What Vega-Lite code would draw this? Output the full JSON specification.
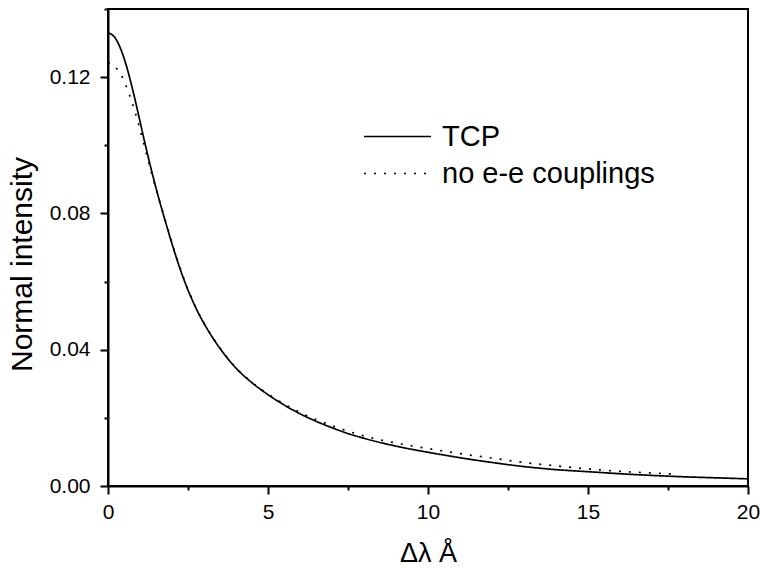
{
  "$schema": "https://vega.github.io/schema/vega-lite/v6.json",
  "width": 640,
  "height": 477,
  "autosize": "none",
  "padding": {"left": 108, "top": 9, "right": 12, "bottom": 82},
  "background": "white",
  "config": {
    "view": {"stroke": "black", "strokeWidth": 2},
    "font": "Liberation Sans",
    "axis": {
      "domainColor": "black", "domainWidth": 2, "tickColor": "black", "tickWidth": 2,
      "labelColor": "black", "titleColor": "black", "labelFont": "Liberation Sans",
      "titleFont": "Liberation Sans", "titleFontWeight": "normal", "grid": false
    }
  },
  "datasets": {
    "curves": [
      {"x": 0, "y": 0.1330, "s": "TCP"},
      {"x": 0.2, "y": 0.1318, "s": "TCP"},
      {"x": 0.4, "y": 0.1282, "s": "TCP"},
      {"x": 0.6, "y": 0.1225, "s": "TCP"},
      {"x": 0.8, "y": 0.1152, "s": "TCP"},
      {"x": 1.0, "y": 0.1070, "s": "TCP"},
      {"x": 1.2, "y": 0.0988, "s": "TCP"},
      {"x": 1.4, "y": 0.0911, "s": "TCP"},
      {"x": 1.6, "y": 0.0840, "s": "TCP"},
      {"x": 1.8, "y": 0.0774, "s": "TCP"},
      {"x": 2.0, "y": 0.0711, "s": "TCP"},
      {"x": 2.2, "y": 0.0652, "s": "TCP"},
      {"x": 2.4, "y": 0.0599, "s": "TCP"},
      {"x": 2.6, "y": 0.0553, "s": "TCP"},
      {"x": 2.8, "y": 0.0512, "s": "TCP"},
      {"x": 3.0, "y": 0.0477, "s": "TCP"},
      {"x": 3.3, "y": 0.0431, "s": "TCP"},
      {"x": 3.6, "y": 0.0391, "s": "TCP"},
      {"x": 4.0, "y": 0.0346, "s": "TCP"},
      {"x": 4.5, "y": 0.0303, "s": "TCP"},
      {"x": 5.0, "y": 0.0268, "s": "TCP"},
      {"x": 5.5, "y": 0.0238, "s": "TCP"},
      {"x": 6.0, "y": 0.0212, "s": "TCP"},
      {"x": 6.5, "y": 0.0190, "s": "TCP"},
      {"x": 7.0, "y": 0.0171, "s": "TCP"},
      {"x": 7.5, "y": 0.0154, "s": "TCP"},
      {"x": 8.0, "y": 0.0140, "s": "TCP"},
      {"x": 9.0, "y": 0.0117, "s": "TCP"},
      {"x": 10.0, "y": 0.0099, "s": "TCP"},
      {"x": 11.0, "y": 0.0083, "s": "TCP"},
      {"x": 12.0, "y": 0.0069, "s": "TCP"},
      {"x": 13.0, "y": 0.0057, "s": "TCP"},
      {"x": 14.0, "y": 0.0048, "s": "TCP"},
      {"x": 15.0, "y": 0.0042, "s": "TCP"},
      {"x": 16.0, "y": 0.0036, "s": "TCP"},
      {"x": 17.0, "y": 0.0031, "s": "TCP"},
      {"x": 18.0, "y": 0.0027, "s": "TCP"},
      {"x": 19.0, "y": 0.0024, "s": "TCP"},
      {"x": 20.0, "y": 0.0021, "s": "TCP"},
      {"x": 0, "y": 0.1243, "s": "no e-e couplings"},
      {"x": 0.2, "y": 0.1232, "s": "no e-e couplings"},
      {"x": 0.4, "y": 0.1208, "s": "no e-e couplings"},
      {"x": 0.6, "y": 0.1166, "s": "no e-e couplings"},
      {"x": 0.8, "y": 0.1112, "s": "no e-e couplings"},
      {"x": 1.0, "y": 0.1046, "s": "no e-e couplings"},
      {"x": 1.2, "y": 0.0975, "s": "no e-e couplings"},
      {"x": 1.4, "y": 0.0905, "s": "no e-e couplings"},
      {"x": 1.6, "y": 0.0840, "s": "no e-e couplings"},
      {"x": 1.8, "y": 0.0777, "s": "no e-e couplings"},
      {"x": 2.0, "y": 0.0714, "s": "no e-e couplings"},
      {"x": 2.2, "y": 0.0655, "s": "no e-e couplings"},
      {"x": 2.4, "y": 0.0601, "s": "no e-e couplings"},
      {"x": 2.6, "y": 0.0554, "s": "no e-e couplings"},
      {"x": 2.8, "y": 0.0513, "s": "no e-e couplings"},
      {"x": 3.0, "y": 0.0478, "s": "no e-e couplings"},
      {"x": 3.3, "y": 0.0432, "s": "no e-e couplings"},
      {"x": 3.6, "y": 0.0392, "s": "no e-e couplings"},
      {"x": 4.0, "y": 0.0347, "s": "no e-e couplings"},
      {"x": 4.5, "y": 0.0304, "s": "no e-e couplings"},
      {"x": 5.0, "y": 0.0270, "s": "no e-e couplings"},
      {"x": 5.5, "y": 0.0241, "s": "no e-e couplings"},
      {"x": 6.0, "y": 0.0216, "s": "no e-e couplings"},
      {"x": 6.5, "y": 0.0195, "s": "no e-e couplings"},
      {"x": 7.0, "y": 0.0177, "s": "no e-e couplings"},
      {"x": 7.5, "y": 0.0161, "s": "no e-e couplings"},
      {"x": 8.0, "y": 0.0147, "s": "no e-e couplings"},
      {"x": 9.0, "y": 0.0126, "s": "no e-e couplings"},
      {"x": 10.0, "y": 0.0110, "s": "no e-e couplings"},
      {"x": 11.0, "y": 0.0095, "s": "no e-e couplings"},
      {"x": 12.0, "y": 0.0082, "s": "no e-e couplings"},
      {"x": 13.0, "y": 0.0069, "s": "no e-e couplings"},
      {"x": 14.0, "y": 0.0059, "s": "no e-e couplings"},
      {"x": 15.0, "y": 0.0050, "s": "no e-e couplings"},
      {"x": 16.0, "y": 0.0043, "s": "no e-e couplings"},
      {"x": 17.0, "y": 0.0038, "s": "no e-e couplings"},
      {"x": 17.6, "y": 0.0035, "s": "no e-e couplings"}
    ]
  },
  "data": {"name": "curves"},
  "mark": {"type": "line", "color": "black", "strokeWidth": 1.7, "interpolate": "monotone", "clip": true},
  "encoding": {
    "x": {
      "field": "x", "type": "quantitative",
      "scale": {"domain": [0, 20], "nice": false, "zero": false},
      "axis": {
        "title": "Δλ Å", "titleFontSize": 27, "titlePadding": 18,
        "values": [0, 2.5, 5, 7.5, 10, 12.5, 15, 17.5, 20],
        "format": "d",
        "labelExpr": "datum.value % 5 === 0 ? datum.label : ''",
        "labelFontSize": 21, "labelPadding": 7, "labelFlush": false,
        "tickSize": {"condition": {"test": "datum.value % 5 !== 0", "value": 4}, "value": 8}
      }
    },
    "y": {
      "field": "y", "type": "quantitative",
      "scale": {"domain": [0, 0.14], "nice": false, "zero": false},
      "axis": {
        "title": "Normal intensity", "titleFontSize": 30, "titlePadding": 12, "titleY": 255,
        "values": [0, 0.02, 0.04, 0.06, 0.08, 0.1, 0.12, 0.14],
        "format": ".2f",
        "labelExpr": "round(datum.value * 100) % 4 === 0 ? datum.label : ''",
        "labelFontSize": 21, "labelPadding": 10, "labelFlush": false,
        "tickSize": {"condition": {"test": "round(datum.value * 100) % 4 !== 0", "value": 4}, "value": 8}
      }
    },
    "strokeDash": {
      "field": "s", "type": "nominal",
      "scale": {"domain": ["TCP", "no e-e couplings"], "range": [[1, 0], [2, 8]]},
      "legend": {
        "title": null, "orient": "none", "legendX": 255, "legendY": 110,
        "symbolType": "stroke", "symbolSize": 4489, "symbolStrokeWidth": 1.7,
        "symbolStrokeColor": "black", "labelFontSize": 29, "labelColor": "black",
        "labelFont": "Liberation Sans", "labelOffset": 10, "rowPadding": 2, "clipHeight": 35, "labelLimit": 400
      }
    }
  }
}
